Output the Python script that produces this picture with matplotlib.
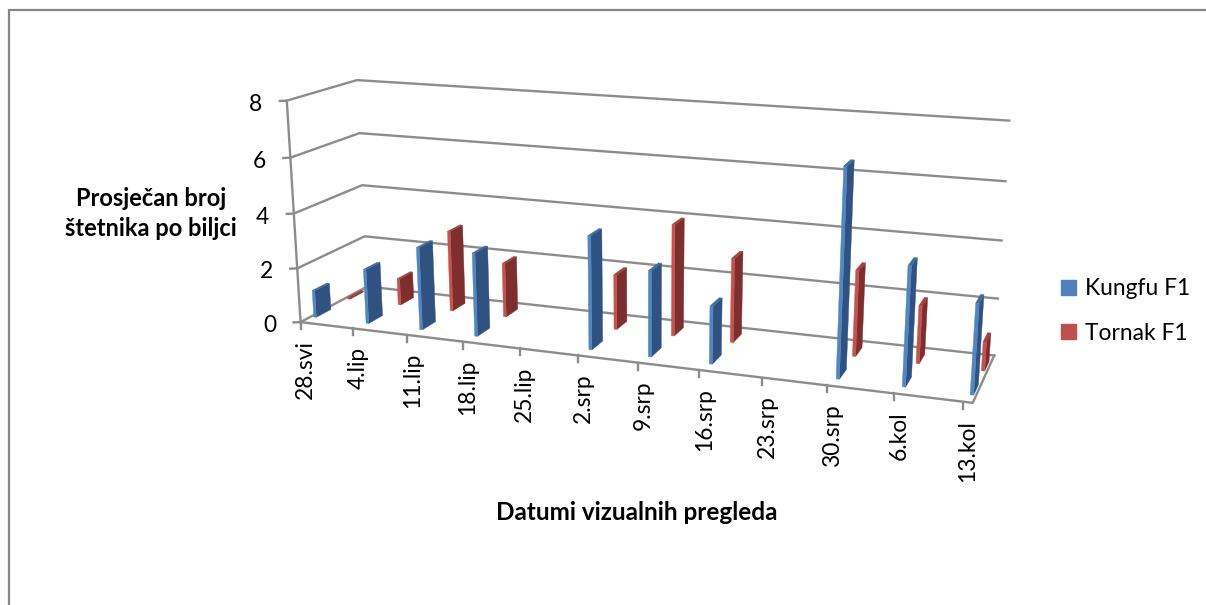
import numpy as np
import matplotlib
matplotlib.use("Agg")
import matplotlib.pyplot as plt
from matplotlib.patches import Patch, Polygon

# ---- data ----
dates = ["28.svi", "4.lip", "11.lip", "18.lip", "25.lip", "2.srp",
         "9.srp", "16.srp", "23.srp", "30.srp", "6.kol", "13.kol"]
day_offsets = [0, 7, 14, 21, 28, 35, 42, 49, 56, 63, 70, 77]
kungfu = [1.0, 2.0, 3.0, 3.0, 0, 4.0, 3.0, 2.0, 0, 7.0, 4.0, 3.0]
tornak = [0.05, 1.0, 3.0, 2.0, 0, 2.0, 4.0, 3.0, 0, 3.0, 2.0, 1.0]
y_ticks = [0, 2, 4, 6, 8]
y_title = "Prosječan broj\nštetnika po biljci"
x_title = "Datumi vizualnih pregleda"
series_names = ["Kungfu F1", "Tornak F1"]

# ---- style ----
W, H = 1206, 605
FONT = "Lato"
GRID = "#8C8C8C"
BLUE = dict(front="#4F86C6", side="#2F5280", top="#3D6CA6", key="#4F81BD")
RED = dict(front="#C9504D", side="#7C2F2D", top="#A83F3C", key="#C0504D")
N_SLOTS = 78.0
Y_MAX = 8.0

# Perspective camera fitted to the corners of the 3-D box of the chart
box_world = [(0, 0, 0), (0, 1, 0), (1, 0, 0), (0, 0, 1), (0, 1, 1), (1, 0, 1), (1, 1, 1)]
box_screen = [(300.7, 321.7), (286.7, 100.7), (972.7, 403.3), (367, 287),
              (357, 80), (994.3, 355), (1009.3, 120.7)]
A, b = [], []
for (x, y, z), (u, v) in zip(box_world, box_screen):
    A.append([x, y, z, 1, 0, 0, 0, 0, -u * x, -u * y, -u * z]); b.append(u)
    A.append([0, 0, 0, 0, x, y, z, 1, -v * x, -v * y, -v * z]); b.append(v)
p = np.linalg.lstsq(np.array(A, float), np.array(b, float), rcond=None)[0]
P = np.append(p, 1.0).reshape(3, 4)


def proj(day, val, depth):
    h = P @ np.array([day / N_SLOTS, val / Y_MAX, depth, 1.0])
    return h[0] / h[2], h[1] / h[2]


fig = plt.figure(figsize=(W / 100, H / 100), dpi=100, facecolor="white")
ax = fig.add_axes([0, 0, 1, 1])
ax.set_xlim(0, W)
ax.set_ylim(H, 0)
ax.axis("off")

lw = 1.7
# outer chart border (cropped at right and bottom)
ax.plot([8.5, 8.5, W], [H, 10, 10], color="#868686", lw=1.6, solid_joinstyle="miter")

# walls and floor
for t in y_ticks:
    a, c, d = proj(0, t, 0), proj(0, t, 1), proj(N_SLOTS, t, 1)
    ax.plot([a[0], c[0], d[0]], [a[1], c[1], d[1]], color=GRID, lw=lw)
    ax.plot([a[0] - 7, a[0]], [a[1] + 0.3, a[1]], color=GRID, lw=lw)
    ax.text(a[0] - 24.5, a[1] + 3.5, str(t), ha="right", va="center",
            fontsize=16.4, family=FONT, color="black")
corners = [proj(0, 0, 0), proj(N_SLOTS, 0, 0), proj(N_SLOTS, 0, 1)]
ax.plot(*zip(*corners), color=GRID, lw=lw)
ax.plot(*zip(proj(0, 0, 0), proj(0, Y_MAX, 0)), color=GRID, lw=lw)

# date ticks and labels
for name, d in zip(dates, day_offsets):
    x0, y0 = proj(d, 0, 0)
    ax.plot([x0, x0], [y0, y0 + 7], color=GRID, lw=lw)
    ax.text(x0 + 5, y0 + 18, name, rotation=90, ha="center", va="top",
            fontsize=16.4, family=FONT, color="black")


def bar(day, val, zc, col):
    if val <= 0:
        return
    x0, x1 = day + 0.4, day + 0.75
    z0, z1 = zc - 0.105, zc + 0.105
    front = [proj(x0, 0, z0), proj(x1, 0, z0), proj(x1, val, z0), proj(x0, val, z0)]
    side = [proj(x1, 0, z0), proj(x1, 0, z1), proj(x1, val, z1), proj(x1, val, z0)]
    top = [proj(x0, val, z0), proj(x1, val, z0), proj(x1, val, z1), proj(x0, val, z1)]
    for pts, c in ((side, col["side"]), (top, col["top"]), (front, col["front"])):
        ax.add_patch(Polygon(pts, closed=True, fc=c, ec=c, lw=0.3, zorder=3))


for d, v in zip(day_offsets, tornak):
    bar(d, v, 0.75, RED)
for d, v in zip(day_offsets, kungfu):
    bar(d, v, 0.25, BLUE)

# titles
ax.text(151, 213.5, y_title, ha="center", va="center", fontsize=17, fontweight="bold",
        family=FONT, color="black", linespacing=1.32)
ax.text(637, 513, x_title, ha="center", va="center", fontsize=17.5, fontweight="bold",
        family=FONT, color="black")

# legend
handles = [Patch(fc=BLUE["key"], ec=BLUE["key"], label=series_names[0]),
           Patch(fc=RED["key"], ec=RED["key"], label=series_names[1])]
ax.legend(handles=handles, loc="center left", bbox_to_anchor=(1061 / W, 1 - 311 / H),
          bbox_transform=fig.transFigure, frameon=False, borderpad=0, borderaxespad=0,
          handlelength=0.64, handleheight=0.64, handletextpad=0.42, labelspacing=1.05,
          prop=dict(family=FONT, size=16.4))

fig.savefig("out.png", dpi=100, facecolor="white")
